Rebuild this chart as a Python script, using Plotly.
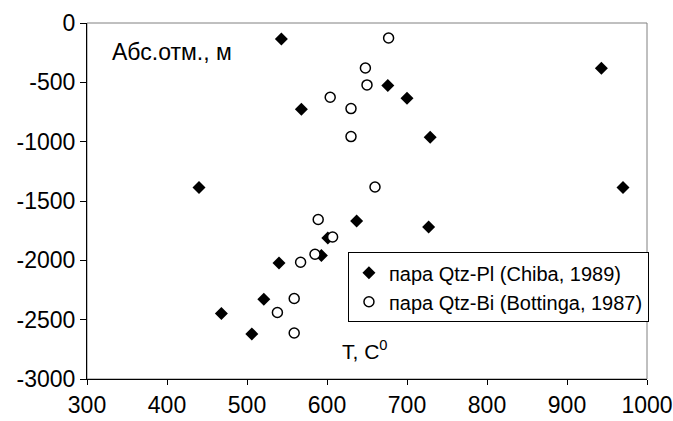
import plotly.graph_objects as go

# Data: pairs Qtz-Pl (Chiba, 1989)
pl_T = [543, 568, 440, 676, 700, 729, 943, 970, 637, 727, 540, 521, 468, 506, 593, 601]
pl_H = [-135, -727, -1387, -527, -634, -963, -382, -1387, -1668, -1719, -2022, -2328, -2448, -2620, -1960, -1811]

# Data: pairs Qtz-Bi (Bottinga, 1987)
bi_T = [677, 648, 650, 604, 630, 630, 660, 589, 607, 585, 567, 559, 538, 559]
bi_H = [-126, -379, -522, -626, -721, -957, -1382, -1656, -1803, -1949, -2016, -2322, -2440, -2612]

x_ticks = [300, 400, 500, 600, 700, 800, 900, 1000]
y_ticks = [0, -500, -1000, -1500, -2000, -2500, -3000]

FONT = "Liberation Sans, Arial, sans-serif"

fig = go.Figure()
fig.add_trace(go.Scatter(
    x=pl_T, y=pl_H, mode="markers", name="пара Qtz-Pl (Chiba, 1989)",
    marker=dict(symbol="diamond", size=10, color="black", line=dict(width=0)),
))
fig.add_trace(go.Scatter(
    x=bi_T, y=bi_H, mode="markers", name="пара Qtz-Bi (Bottinga, 1987)",
    marker=dict(symbol="circle", size=10, color="white", line=dict(width=1.5, color="black")),
))

fig.update_layout(
    width=673, height=421,
    margin=dict(l=87, r=26, t=23, b=42, autoexpand=False),
    paper_bgcolor="white", plot_bgcolor="white",
    font=dict(family=FONT, size=23, color="black"),
    showlegend=True,
    legend=dict(
        x=0.466, y=0.356, xanchor="left", yanchor="top",
        bgcolor="white", bordercolor="black", borderwidth=1,
        font=dict(family=FONT, size=20, color="black"),
        itemwidth=30, tracegroupgap=0,
    ),
    xaxis=dict(
        range=[300, 1000], tickvals=x_ticks, ticktext=[str(v) for v in x_ticks],
        showgrid=False, zeroline=False, automargin=False,
        showline=True, linecolor="black", linewidth=1,
        ticks="outside", ticklen=5, tickcolor="black", tickwidth=1,
        tickfont=dict(family=FONT, size=23),
    ),
    yaxis=dict(
        range=[-3000, 0], tickvals=y_ticks, ticktext=[str(v) for v in y_ticks],
        showgrid=False, zeroline=False, automargin=False,
        showline=True, linecolor="black", linewidth=1,
        ticks="outside", ticklen=6, tickcolor="black", tickwidth=1,
        tickfont=dict(family=FONT, size=23),
    ),
    shapes=[dict(type="rect", xref="paper", yref="paper", x0=0, y0=0, x1=1, y1=1,
                 line=dict(color="#808080", width=1), layer="below")],
    annotations=[
        dict(text="Абс.отм., м", xref="paper", yref="paper", x=0.041, y=0.918,
             xanchor="left", yanchor="middle", showarrow=False,
             font=dict(family=FONT, size=23)),
        dict(text="T, C<sup>0</sup>", xref="paper", yref="paper", x=0.452, y=0.081,
             xanchor="left", yanchor="middle", showarrow=False,
             font=dict(family=FONT, size=21)),
    ],
)

fig.write_html("out.html")
